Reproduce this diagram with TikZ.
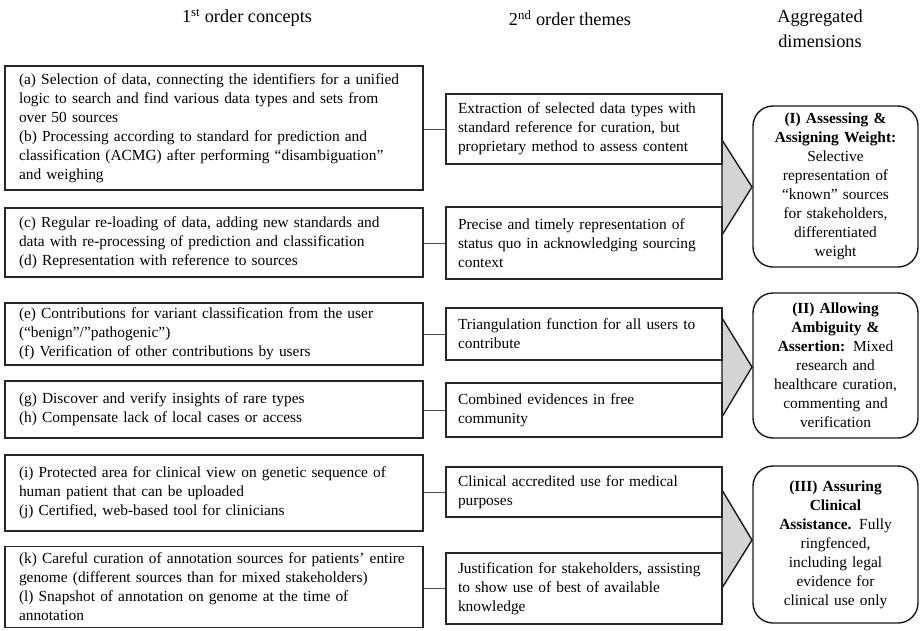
\documentclass[tikz,border=0pt]{standalone}
\usepackage{fontspec}
\setmainfont{Liberation Serif}
\begin{document}
\begin{tikzpicture}[x=1pt,y=-1pt,
  every node/.style={font=\fontsize{15.4}{19}\selectfont},
  concept/.style={draw=black!85, line width=1.6pt, rectangle, align=left,
    inner xsep=14pt, inner ysep=0pt, anchor=center},
  theme/.style={draw=black!85, line width=1.6pt, rectangle, align=left,
    inner xsep=12pt, inner ysep=0pt, anchor=center},
  dimbox/.style={draw=black!90, line width=1.4pt, rectangle, rounded corners=20pt,
    align=center, inner sep=0pt, minimum width=165pt, text width=155pt},
  link/.style={draw=black!70, line width=0.9pt},
  chevron/.style={draw=black!90, line width=1.4pt, fill=black!17, line join=miter},
  head/.style={align=center, inner sep=0pt, font=\fontsize{18.3}{25}\selectfont}]
\useasboundingbox (0,0) rectangle (920,630);

% column headings
\node[head] (h1) at (247,18) {1\textsuperscript{st} order concepts};
\node[head] (h2) at (570,18) {2\textsuperscript{nd} order themes};
\node[head] (h3) at (820,29) {Aggregated\\dimensions};

% chevrons pointing to the aggregated dimensions
\draw[chevron] (722,140) -- (752,187) -- (722,235) -- cycle;
\draw[chevron] (722,318) -- (752,367) -- (722,417) -- cycle;
\draw[chevron] (722,490) -- (752,540) -- (722,588) -- cycle;

% 1st order concepts
\node[concept, minimum width=418pt, minimum height=124pt, text width=390pt] (c1) at (214,128)
 {(a) Selection of data, connecting the identifiers for a unified\\
  logic to search and find various data types and sets from\\
  over 50 sources\\
  (b) Processing according to standard for prediction and\\
  classification (ACMG) after performing “disambiguation”\\
  and weighing};
\node[concept, minimum width=418pt, minimum height=69pt, text width=390pt] (c2) at (214,242.5)
 {(c) Regular re-loading of data, adding new standards and\\
  data with re-processing of prediction and classification\\
  (d) Representation with reference to sources};
\node[concept, minimum width=418pt, minimum height=62pt, text width=390pt] (c3) at (214,334)
 {(e) Contributions for variant classification from the user\\
  (“benign”/”pathogenic”)\\
  (f) Verification of other contributions by users};
\node[concept, minimum width=418pt, minimum height=57pt, text width=390pt] (c4) at (214,409.5)
 {(g) Discover and verify insights of rare types\\
  (h) Compensate lack of local cases or access};
\node[concept, minimum width=418pt, minimum height=76pt, text width=390pt] (c5) at (214,493)
 {(i) Protected area for clinical view on genetic sequence of\\
  human patient that can be uploaded\\
  (j) Certified, web-based tool for clinicians};
\node[concept, minimum width=418pt, minimum height=81pt, text width=390pt] (c6) at (214,587)
 {(k) Careful curation of annotation sources for patients’ entire\\
  genome (different sources than for mixed stakeholders)\\
  (l) Snapshot of annotation on genome at the time of\\
  annotation};

% 2nd order themes
\node[theme, minimum width=276pt, minimum height=70pt, text width=252pt] (t1) at (584,129)
 {Extraction of selected data types with\\
  standard reference for curation, but\\
  proprietary method to assess content};
\node[theme, minimum width=276pt, minimum height=72pt, text width=252pt] (t2) at (584,243)
 {Precise and timely representation of\\
  status quo in acknowledging sourcing\\
  context};
\node[theme, minimum width=276pt, minimum height=52pt, text width=252pt] (t3) at (584,334)
 {Triangulation function for all users to\\
  contribute};
\node[theme, minimum width=276pt, minimum height=54pt, text width=252pt] (t4) at (584,410)
 {Combined evidences in free\\
  community};
\node[theme, minimum width=276pt, minimum height=50pt, text width=252pt] (t5) at (584,492)
 {Clinical accredited use for medical\\
  purposes};
\node[theme, minimum width=276pt, minimum height=71pt, text width=252pt] (t6) at (584,588.5)
 {Justification for stakeholders, assisting\\
  to show use of best of available\\
  knowledge};

% aggregated dimensions
\node[dimbox, minimum height=161pt] (d1) at (835.5,186.5)
 {\textbf{(I) Assessing \&}\\
  \textbf{Assigning Weight:}\\
  Selective\\
  representation of\\
  “known” sources\\
  for stakeholders,\\
  differentiated\\
  weight};
\node[dimbox, minimum height=145pt] (d2) at (835.5,365.5)
 {\textbf{(II) Allowing}\\
  \textbf{Ambiguity \&}\\
  \textbf{Assertion:} Mixed\\
  research and\\
  healthcare curation,\\
  commenting and\\
  verification};
\node[dimbox, minimum height=157pt] (d3) at (835.5,544.5)
 {\textbf{(III) Assuring}\\
  \textbf{Clinical}\\
  \textbf{Assistance.} Fully\\
  ringfenced,\\
  including legal\\
  evidence for\\
  clinical use only};

% concept-to-theme connectors
\foreach \c/\t in {c1/t1,c2/t2,c3/t3,c4/t4,c5/t5,c6/t6}
  \draw[link] (\c.east |- \t.west) -- (\t.west);
\end{tikzpicture}
\end{document}
